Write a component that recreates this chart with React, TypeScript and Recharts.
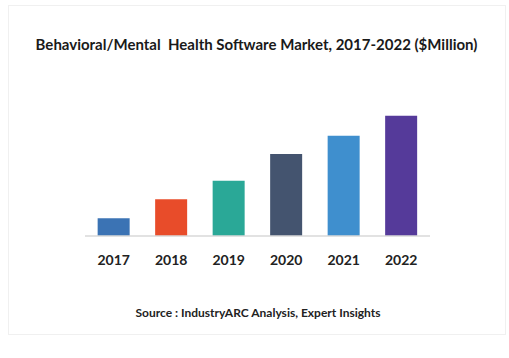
import React from "react";
import { BarChart, Bar, XAxis, YAxis, Cell } from "recharts";

const years = ["2017", "2018", "2019", "2020", "2021", "2022"];
const marketValues = [17.7, 36.7, 55.3, 82, 100.3, 120.3];
const barColors = ["#3b73b4", "#e84c2a", "#2aa897", "#44546f", "#3f8fce", "#553a9a"];
const titleText = "Behavioral/Mental  Health Software Market, 2017-2022 ($Million)";
const sourceText = "Source : IndustryARC Analysis, Expert Insights";

const data = years.map((y, i) => ({ year: y, value: marketValues[i] }));

export default function App() {
  return (
    <div style={{ position: "absolute", left: 0, top: 0, width: 509, height: 358, background: "#fff", fontFamily: "Lato, sans-serif" }}>
      <div style={{ position: "absolute", left: 8, top: 5, width: 498, height: 330, border: "1px solid #f0f0f0", boxSizing: "border-box" }} />
      <div style={{ position: "absolute", left: 0, top: 35, width: 513, textAlign: "center", fontSize: 15, fontWeight: 700, color: "#1a1a1a", whiteSpace: "pre" }}>
        {titleText}
      </div>
      <div style={{ position: "absolute", left: 0, top: 305, width: 516, textAlign: "center", fontSize: 12, fontWeight: 700, color: "#222", whiteSpace: "pre" }}>
        {sourceText}
      </div>
      <div style={{ position: "absolute", left: 0, top: 0 }}>
        <BarChart width={509} height={358} data={data} margin={{ top: 96, right: 79, bottom: 92, left: 85 }} barCategoryGap="22%">
          <YAxis hide domain={[0, 140]} />
          <XAxis
            dataKey="year"
            height={30}
            axisLine={{ stroke: "#d9d9d9", strokeWidth: 1.5 }}
            tickLine={false}
            tickSize={6}
            tickMargin={13}
            tick={{ fill: "#222", fontSize: 14, fontFamily: "Lato, sans-serif", fontWeight: 700 }}
          />
          <Bar dataKey="value" isAnimationActive={false}>
            {data.map((d, i) => (
              <Cell key={d.year} fill={barColors[i]} />
            ))}
          </Bar>
        </BarChart>
      </div>
    </div>
  );
}
